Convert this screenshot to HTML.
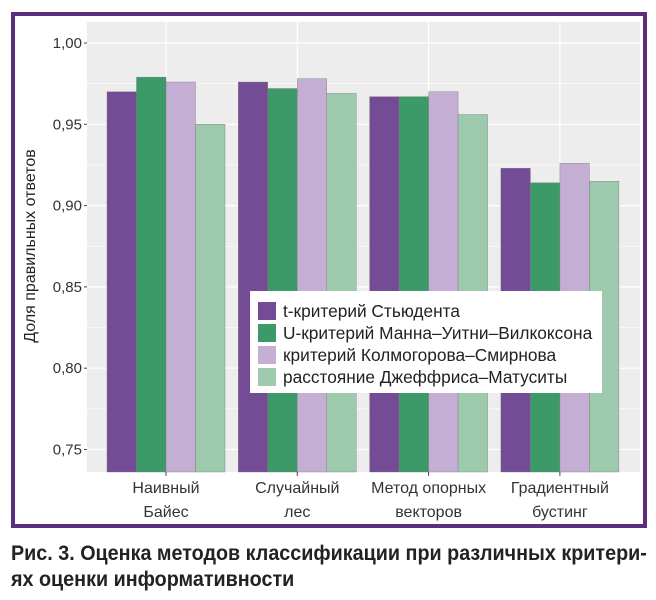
<!DOCTYPE html>
<html><head><meta charset="utf-8"><style>
body{margin:0;background:#fff;width:656px;height:600px;overflow:hidden;font-family:"Liberation Sans","Noto Sans CJK SC",sans-serif;}
#frame{position:absolute;left:11px;top:12px;width:628px;height:508px;border:4px solid #5b2f7e;}
#cap{position:absolute;left:11px;top:541px;font-weight:bold;font-size:21px;line-height:26px;color:#222;transform:scaleX(0.94);transform-origin:left;white-space:nowrap;}
</style></head><body>
<div id="frame"></div>
<svg id="chart" width="656" height="600" style="position:absolute;left:0;top:0"></svg>
<div id="cap">Рис. 3. Оценка методов классификации при различных критери-<br>ях оценки информативности</div>
<script>
const categories=[["Наивный","Байес"],["Случайный","лес"],["Метод опорных","векторов"],["Градиентный","бустинг"]];
const seriesNames=["t-критерий Стьюдента","U-критерий Манна–Уитни–Вилкоксона","критерий Колмогорова–Смирнова","расстояние Джеффриса–Матуситы"];
const tStudent=[0.970,0.976,0.967,0.923];
const uMann=[0.979,0.972,0.967,0.914];
const ksTest=[0.976,0.978,0.970,0.926];
const jmDist=[0.950,0.969,0.956,0.915];
const yTicks=[0.75,0.80,0.85,0.90,0.95,1.00];
const yTickLabels=["0,75","0,80","0,85","0,90","0,95","1,00"];
const colors=["#744c96","#3b9a68","#c4aed4","#9dcaad"];
const series=[tStudent,uMann,ksTest,jmDist];
const NS="http://www.w3.org/2000/svg";
const svg=document.getElementById('chart');
const px0=87,px1=640,py0=22,py1=472;
function y(v){return 43+(1-v)*1626;}
function xc(i){return 166+i*131.3;}
function mk(t,a,p){const e=document.createElementNS(NS,t);for(const k in a)e.setAttribute(k,a[k]);(p||svg).appendChild(e);return e;}
const panel=mk('rect',{x:px0,y:py0,width:px1-px0,height:py1-py0,fill:'#ededed'});


for(let v=0.75;v<=1.001;v+=0.025){const yy=y(v);if(yy<py0||yy>py1)continue;
 const g=mk('line',{x1:px0,x2:px1,y1:yy,y2:yy,stroke:'#fff','stroke-width':Math.abs((v*40)%2)<0.01||Math.abs((v*40)%2-2)<0.01?1.2:0.6});
 
 }
categories.forEach((c,i)=>{const g=mk('line',{x1:xc(i),x2:xc(i),y1:py0,y2:py1,stroke:'#fff','stroke-width':1.2});
 
 });
const bw=29.5;
categories.forEach((c,i)=>{series.forEach((s,j)=>{
 const x0=xc(i)-2*bw+j*bw;const top=y(s[i]);
 const r=mk('rect',{x:x0,y:top,width:bw,height:py1-top,fill:colors[j],stroke:'#7a7a7a','stroke-width':0.4});
 
 });});
yTicks.forEach((v,k)=>{const yy=y(v);
 mk('line',{x1:px0-3,x2:px0,y1:yy,y2:yy,stroke:'#444'});
 const t=mk('text',{x:px0-5,y:yy+5,'text-anchor':'end','font-size':15,fill:'#333'});t.textContent=yTickLabels[k];
 
 });
categories.forEach((c,i)=>{mk('line',{x1:xc(i),x2:xc(i),y1:py1,y2:py1+4,stroke:'#444'});
 c.forEach((l,k)=>{const t=mk('text',{x:xc(i),y:493+k*24,'text-anchor':'middle','font-size':16,fill:'#333'});t.textContent=l;
 
 });});
const yt=mk('text',{x:0,y:0,transform:'translate(35,246) rotate(-90)','text-anchor':'middle','font-size':16,fill:'#222'});
yt.textContent='Доля правильных ответов';


const lg=mk('g',{});


mk('rect',{x:250,y:291,width:352,height:102,fill:'#fff'},lg);
seriesNames.forEach((n,j)=>{
 const sw=mk('rect',{x:258,y:302+j*22,width:18,height:18,fill:colors[j]},lg);
 
 
 const t=mk('text',{x:283,y:317+j*22,'font-size':17.3,fill:'#222'},lg);t.textContent=n;
 
 });
</script>
</body></html>
